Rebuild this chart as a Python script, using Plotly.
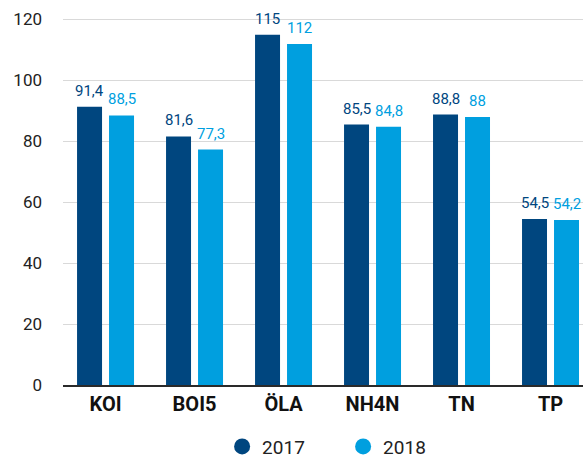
import plotly.graph_objects as go

categories = ["KOI", "BOI5", "ÖLA", "NH4N", "TN", "TP"]
values_2017 = [91.4, 81.6, 115, 85.5, 88.8, 54.5]
values_2018 = [88.5, 77.3, 112, 84.8, 88, 54.2]
series_names = ["2017", "2018"]
y_ticks = [0, 20, 40, 60, 80, 100, 120]

C17 = "#00467F"
C18 = "#009FDF"
FONT = "Roboto"
BARGAP = 0.281


def fmt(v):
    s = ("%g" % v)
    return s.replace(".", ",")


fig = go.Figure()
for name, vals, col in [(series_names[0], values_2017, C17), (series_names[1], values_2018, C18)]:
    fig.add_trace(go.Bar(
        x=categories, y=vals, name=name, marker=dict(color=col, line=dict(width=0)),
        showlegend=False,
    ))
for name, col in [(series_names[0], C17), (series_names[1], C18)]:
    fig.add_trace(go.Scatter(
        x=[None], y=[None], mode="markers", name=name,
        marker=dict(symbol="circle", size=20, color=col),
    ))

# value labels above each bar (grouped offsets in category units)
half_slot = (1 - BARGAP) / 4
for s, (vals, col) in enumerate([(values_2017, C17), (values_2018, C18)]):
    off = -half_slot if s == 0 else half_slot
    for i, v in enumerate(vals):
        fig.add_annotation(
            x=i + off, y=v, xref="x", yref="y", text=fmt(v), showarrow=False,
            yanchor="bottom", xanchor="center", yshift=5,
            font=dict(family=FONT, size=15, color=col),
        )

fig.update_layout(
    width=583, height=457,
    margin=dict(l=63, r=0, t=18, b=72, autoexpand=False),
    paper_bgcolor="white", plot_bgcolor="white",
    barmode="group", bargap=BARGAP, bargroupgap=0.219,
    font=dict(family=FONT, color="#222222"),
    showlegend=True,
    legend=dict(orientation="h", x=0.306, xanchor="left", y=-0.116, yanchor="top",
                font=dict(family=FONT, size=19, color="#222222"),
                itemwidth=30, entrywidth=76, entrywidthmode="pixels", tracegroupgap=0),
)
fig.update_xaxes(
    type="category", range=[-0.478, 5.365],
    showline=True, linecolor="#2a2a2a", linewidth=2,
    showgrid=False, ticks="",
    tickfont=dict(family=FONT, size=20, color="#111111", weight="bold"),
)
fig.update_yaxes(
    range=[0, 120.5], tickvals=y_ticks, ticktext=[str(t) for t in y_ticks],
    showgrid=True, gridcolor="#d9d9d9", gridwidth=1,
    zeroline=False, showline=False, ticks="",
    ticklabelstandoff=20,
    tickfont=dict(family=FONT, size=17, color="#222222"),
)

fig.write_html("out.html", config={"displayModeBar": False},
               post_script="document.body.style.margin='0';")
